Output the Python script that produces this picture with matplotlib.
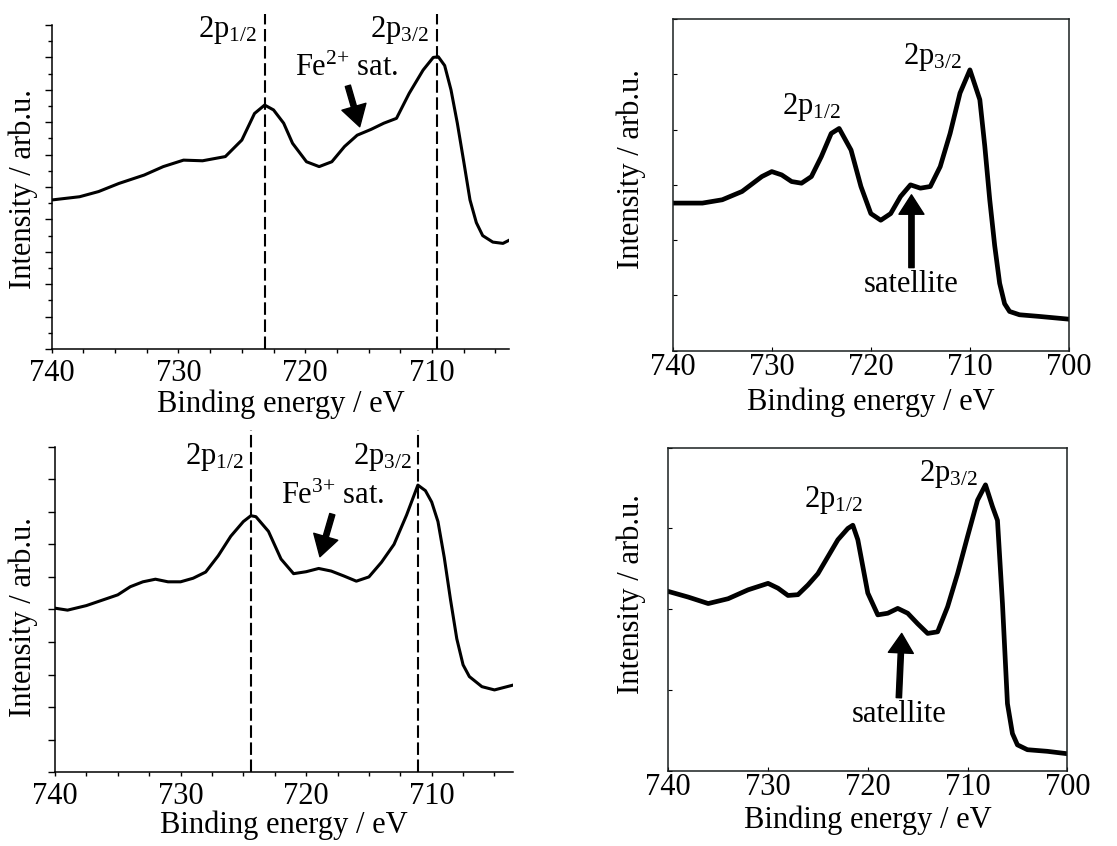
import matplotlib
matplotlib.use("Agg")
import matplotlib.pyplot as plt
from matplotlib.ticker import MultipleLocator

plt.rcParams["font.family"] = ["Liberation Serif", "DejaVu Serif"]
plt.rcParams["mathtext.fontset"] = "custom"
plt.rcParams["mathtext.rm"] = "Liberation Serif"
plt.rcParams["mathtext.it"] = "Liberation Serif:italic"

# --- panel A: Fe2+ spectrum (top left)
a_energy = [740, 737.8, 736.3, 734.7, 732.7, 731.2, 729.6, 728.1, 726.3, 725.0,
            724.0, 723.2, 722.5, 721.7, 721.0, 719.9, 718.9, 717.9, 716.9, 715.9,
            714.8, 713.8, 712.8, 711.8, 710.7, 709.9, 709.5, 709.0, 708.5, 708.0,
            707.5, 707.0, 706.5, 706.0, 705.2, 704.4, 703.9]
a_counts = [4.60, 4.70, 4.86, 5.11, 5.37, 5.63, 5.83, 5.81, 5.94, 6.45,
            7.27, 7.53, 7.38, 6.97, 6.35, 5.78, 5.63, 5.78, 6.25, 6.60,
            6.78, 6.97, 7.12, 7.89, 8.61, 9.00, 9.02, 8.75, 8.00, 6.97,
            5.80, 4.60, 3.90, 3.50, 3.30, 3.26, 3.36]
a_peaks = [723.2, 709.6]

# --- panel B: reference spectrum (top right)
b_energy = [740, 737, 735, 733, 731, 730, 729, 728, 727, 726, 725, 724, 723.2,
            722, 721, 720, 719, 718, 717, 716, 715, 714, 713, 712, 711, 710, 709,
            708.5, 708, 707.5, 707, 706.5, 706, 705, 703, 700]
b_counts = [2.67, 2.67, 2.73, 2.88, 3.15, 3.24, 3.18, 3.06, 3.03, 3.15, 3.51, 3.93,
            4.02, 3.63, 2.97, 2.48, 2.36, 2.48, 2.79, 3.00, 2.94, 2.97, 3.33, 3.93,
            4.66, 5.08, 4.54, 3.70, 2.73, 1.90, 1.22, 0.85, 0.71, 0.65, 0.62, 0.57]

# --- panel C: Fe3+ spectrum (bottom left)
c_energy = [740, 739, 737.5, 735, 734, 733, 732, 731, 730, 729, 728, 727, 726, 725,
            724.4, 724, 723, 722, 721, 720, 719, 718, 717, 716, 715, 714, 713, 712,
            711.1, 710.5, 710, 709.5, 709, 708.5, 708, 707.5, 707, 706, 705, 704, 703.5]
c_counts = [5.04, 4.98, 5.12, 5.45, 5.70, 5.85, 5.93, 5.85, 5.85, 5.96, 6.15, 6.65,
            7.25, 7.70, 7.88, 7.85, 7.40, 6.55, 6.10, 6.16, 6.26, 6.18, 6.03, 5.87,
            6.00, 6.45, 7.00, 7.90, 8.82, 8.65, 8.30, 7.70, 6.60, 5.30, 4.10, 3.30,
            2.94, 2.63, 2.53, 2.63, 2.68]
c_peaks = [724.4, 711.1]

# --- panel D: reference spectrum (bottom right)
d_energy = [740, 738, 736, 734, 732, 730, 729, 728, 727, 726, 725, 724, 723, 722,
            721.5, 721, 720, 719, 718, 717, 716, 715, 714, 713, 712, 711, 710, 709,
            708.2, 707.5, 707, 706.5, 706, 705.5, 705, 704, 702, 700]
d_counts = [2.22, 2.15, 2.07, 2.13, 2.24, 2.32, 2.26, 2.17, 2.18, 2.30, 2.44, 2.65,
            2.86, 3.00, 3.04, 2.86, 2.20, 1.93, 1.95, 2.01, 1.95, 1.82, 1.70, 1.72,
            2.03, 2.44, 2.90, 3.35, 3.54, 3.27, 3.10, 2.07, 0.83, 0.46, 0.32, 0.26,
            0.24, 0.21]

FS = 22
W, H = 1117, 846
fig = plt.figure(figsize=(W / 100, H / 100), dpi=100)


def frac(left, top, right, bottom):
    return [left / W, 1 - bottom / H, (right - left) / W, (bottom - top) / H]


def open_panel(rect, energy, counts, peaks, ytop, xmin):
    ax = fig.add_axes(rect)
    ax.plot(energy, counts, color="black", lw=2.2)
    for p in peaks:
        ax.axvline(p, color="black", lw=1.5, ls=(0, (6, 2.2)))
    ax.set_xlim(740, xmin)
    ax.set_ylim(0, ytop)
    ax.spines["top"].set_visible(False)
    ax.spines["right"].set_visible(False)
    ax.spines["left"].set_bounds(0, 10)
    for s in ["left", "bottom"]:
        ax.spines[s].set_linewidth(1.1)
    ax.xaxis.set_major_locator(MultipleLocator(10))
    ax.xaxis.set_minor_locator(MultipleLocator(2.5))
    ax.tick_params(axis="x", which="both", direction="out", length=3, width=1,
                   labelsize=FS, pad=4)
    ax.set_yticks(range(11))
    ax.set_yticklabels([])
    return ax


def box_panel(rect, energy, counts, ytop):
    ax = fig.add_axes(rect)
    ax.plot(energy, counts, color="black", lw=3.4)
    ax.set_xlim(740, 700)
    ax.set_ylim(0, ytop)
    for s in ax.spines.values():
        s.set_linewidth(1.1)
        s.set_color("#1a1f1f")
    ax.xaxis.set_major_locator(MultipleLocator(10))
    ax.set_yticks(range(ytop + 1))
    ax.set_yticklabels([])
    ax.tick_params(direction="in", length=3, width=0.8, labelsize=FS, pad=2)
    return ax


sub12 = r"2p$_{\mathrm{1/2}}$"
sub32 = r"2p$_{\mathrm{3/2}}$"
arrow = dict(width=3.8, headwidth=18, headlength=15, color="black",
             shrinkA=14, shrinkB=0)

# A
axA = open_panel(frac(51.7, 13.7, 509.3, 349), a_energy, a_counts, a_peaks, 10.35, 703.9)
axA.yaxis.set_minor_locator(MultipleLocator(0.5))
axA.tick_params(axis="y", which="major", direction="out", length=5, width=1)
axA.tick_params(axis="y", which="minor", direction="out", length=3, width=1)
axA.text(726.1, 9.85, sub12, fontsize=FS, ha="center", va="center")
axA.text(712.6, 9.85, sub32, fontsize=FS, ha="center", va="center")
axA.annotate(r"Fe$^{\mathrm{2}{+}}$ sat.", xy=(715.7, 6.86), xytext=(716.7, 8.66),
             fontsize=FS, ha="center", va="center", arrowprops=arrow)

# C
axC = open_panel(frac(55, 430.4, 513.3, 772.3), c_energy, c_counts, c_peaks, 10.5, 703.5)
axC.tick_params(axis="y", direction="out", length=5, width=1)
axC.text(727.3, 9.69, sub12, fontsize=FS, ha="center", va="center")
axC.text(713.9, 9.69, sub32, fontsize=FS, ha="center", va="center")
axC.annotate(r"Fe$^{\mathrm{3}{+}}$ sat.", xy=(718.9, 6.62), xytext=(717.85, 8.46),
             fontsize=FS, ha="center", va="center", arrowprops=arrow)

# B
axB = box_panel(frac(672.7, 19, 1069, 350.7), b_energy, b_counts, 6)
axB.text(713.8, 5.32, sub32, fontsize=FS, ha="center", va="center")
axB.text(726.0, 4.41, sub12, fontsize=FS, ha="center", va="center")
axB.annotate("satellite", xy=(715.9, 2.82), xytext=(715.9, 1.19),
             fontsize=FS, ha="center", va="center",
             arrowprops=dict(arrow, headwidth=18, headlength=14, shrinkA=15))

# D
axD = box_panel(frac(668.3, 447.7, 1067.3, 770.7), d_energy, d_counts, 4)
axD.text(711.9, 3.68, sub32, fontsize=FS, ha="center", va="center")
axD.text(723.4, 3.35, sub12, fontsize=FS, ha="center", va="center")
axD.annotate("satellite", xy=(716.6, 1.70), xytext=(716.9, 0.69),
             fontsize=FS, ha="center", va="center",
             arrowprops=dict(arrow, headwidth=18, headlength=14, shrinkA=15))

label_pos = {axA: (-0.063, 0.477, -0.122), axC: (-0.070, 0.453, -0.112),
             axB: (-0.1035, 0.548, -0.112), axD: (-0.092, 0.547, -0.108)}
for ax, (yx, yy, xy) in label_pos.items():
    ax.set_xlabel("Binding energy / eV", fontsize=FS, va="top")
    ax.set_ylabel("Intensity / arb.u.", fontsize=FS, va="center")
    ax.yaxis.set_label_coords(yx, yy)
    ax.xaxis.set_label_coords(0.5, xy)

fig.savefig("out.png", dpi=100)
